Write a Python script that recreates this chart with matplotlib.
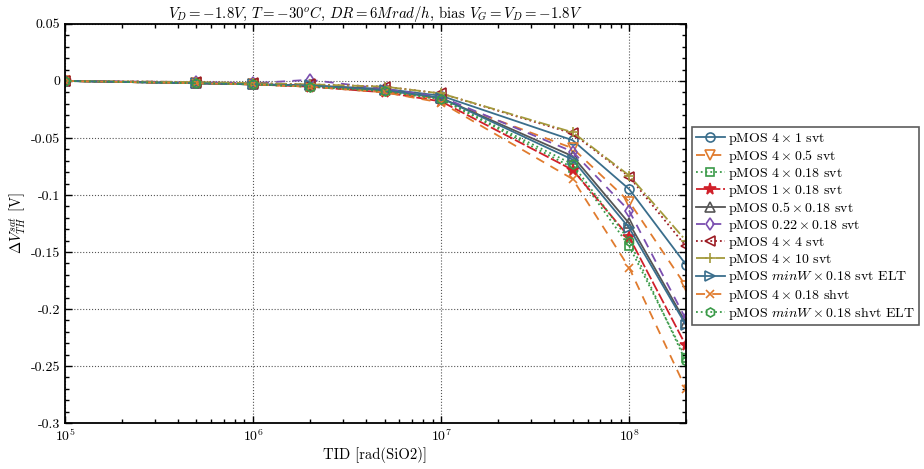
import numpy as np
import matplotlib
matplotlib.use('Agg')
import matplotlib.pyplot as plt
from matplotlib.ticker import LogLocator, MultipleLocator, NullFormatter

plt.rcParams['font.family'] = 'serif'
plt.rcParams['font.serif'] = ['cmr10', 'DejaVu Serif']
plt.rcParams['mathtext.fontset'] = 'cm'
plt.rcParams['axes.unicode_minus'] = False
plt.rcParams['axes.formatter.use_mathtext'] = True

# 剂量点
tid = [1e5, 5e5, 1e6, 2e6, 5e6, 1e7, 5e7, 1e8, 2e8]

# 各器件的阈值电压漂移
dv_4x1 = [0, -0.002, -0.003, -0.004, -0.007, -0.013, -0.052, -0.095, -0.161]
dv_4x05 = [0, -0.002, -0.003, -0.005, -0.009, -0.016, -0.059, -0.106, -0.180]
dv_4x018 = [0, -0.002, -0.003, -0.005, -0.009, -0.016, -0.076, -0.145, -0.243]
dv_1x018 = [0, -0.002, -0.003, -0.005, -0.010, -0.018, -0.078, -0.137, -0.232]
dv_05x018 = [0, -0.002, -0.003, -0.004, -0.008, -0.015, -0.066, -0.125, -0.212]
dv_022x018 = [0, -0.001, -0.002, 0.001, -0.007, -0.014, -0.062, -0.114, -0.209]
dv_4x4 = [0, -0.001, -0.002, -0.003, -0.005, -0.011, -0.046, -0.084, -0.145]
dv_4x10 = [0, -0.001, -0.002, -0.003, -0.005, -0.011, -0.045, -0.083, -0.140]
dv_elt = [0, -0.002, -0.003, -0.004, -0.008, -0.015, -0.069, -0.129, -0.214]
dv_shvt = [0, -0.002, -0.003, -0.005, -0.010, -0.019, -0.086, -0.164, -0.270]
dv_shvt_elt = [0, -0.002, -0.003, -0.005, -0.009, -0.016, -0.073, -0.140, -0.246]

labels = [r'pMOS $4\times1$ svt', r'pMOS $4\times0.5$ svt', r'pMOS $4\times0.18$ svt',
          r'pMOS $1\times0.18$ svt', r'pMOS $0.5\times0.18$ svt', r'pMOS $0.22\times0.18$ svt',
          r'pMOS $4\times4$ svt', r'pMOS $4\times10$ svt', r'pMOS $minW\times0.18$ svt ELT',
          r'pMOS $4\times0.18$ shvt', r'pMOS $minW\times0.18$ shvt ELT']

yticks = [0.05, 0, -0.05, -0.1, -0.15, -0.2, -0.25, -0.3]
yticklabels = ['0.05', '0', '-0.05', '-0.1', '-0.15', '-0.2', '-0.25', '-0.3']

series = [dv_4x1, dv_4x05, dv_4x018, dv_1x018, dv_05x018, dv_022x018,
          dv_4x4, dv_4x10, dv_elt, dv_shvt, dv_shvt_elt]

# 颜色 / 线型 / 标记
c_blue, c_orange, c_green, c_red = '#3a6e8c', '#e07b2e', '#3a9a48', '#d0202a'
c_gray, c_purple, c_dred, c_olive = '#555555', '#7b4fb0', '#9c1c24', '#a39a3c'
styles = [
    dict(color=c_blue, ls='-', marker='o', mfc='none'),
    dict(color=c_orange, ls=(0, (5, 4)), marker='v', mfc='none'),
    dict(color=c_green, ls=':', marker='s', mfc='none', ms=5.5),
    dict(color=c_red, ls=(0, (6, 1.5)), marker='*', mfc=c_red, ms=8.5),
    dict(color=c_gray, ls='-', marker='^', mfc='none'),
    dict(color=c_purple, ls=(0, (5, 4)), marker='d', mfc='none'),
    dict(color=c_dred, ls=':', marker='<', mfc='none'),
    dict(color=c_olive, ls='-.', marker='+'),
    dict(color=c_blue, ls='-', marker='>', mfc='none'),
    dict(color=c_orange, ls=(0, (5, 4)), marker='x', ms=5.5),
    dict(color=c_green, ls=':', marker='h', mfc='none'),
]

fig = plt.figure(figsize=(9.24, 4.69), dpi=100)
ax = fig.add_axes([0.0703, 0.098, 0.672, 0.851])

for vals, lab, st in zip(series, labels, styles):
    kw = dict(lw=1.3, ms=6.5, mew=1.2)
    kw.update(st)
    ax.plot(tid, vals, label=lab, **kw)

ax.set_xscale('log')
ax.set_xlim(1e5, 2e8)
ax.set_ylim(-0.3, 0.05)
ax.set_yticks(yticks)
ax.set_yticklabels(yticklabels)
ax.yaxis.set_minor_locator(MultipleLocator(0.01))
ax.xaxis.set_major_locator(LogLocator(base=10, numticks=10))
ax.xaxis.set_minor_locator(LogLocator(base=10, subs=np.arange(2, 10), numticks=20))
ax.xaxis.set_minor_formatter(NullFormatter())

ax.grid(True, which='major', ls=':', color='#555555', lw=0.8)
ax.tick_params(which='both', direction='in', top=True, right=True, labelsize=10, width=1)
ax.tick_params(which='major', length=5)
ax.tick_params(which='minor', length=3)
for sp in ax.spines.values():
    sp.set_linewidth(1.3)

ax.set_xlabel('TID [rad(SiO2)]', fontsize=10.5, labelpad=2)
ax.set_ylabel(r'$\Delta V_{TH}^{sat}$ [V]', fontsize=10.5, labelpad=2)
ax.set_title(r'$V_D=-1.8V$, $T=-30^oC$, $DR=6Mrad/h$, bias $V_G=V_D=-1.8V$', fontsize=10.7, pad=4)

leg = ax.legend(loc='upper left', bbox_to_anchor=(0.749, 0.729), bbox_transform=fig.transFigure,
                fontsize=10, frameon=True, fancybox=False, edgecolor='#333333',
                handlelength=2.1, handletextpad=0.25, labelspacing=0.08, borderpad=0.25,
                borderaxespad=0)
leg.get_frame().set_linewidth(1.2)

plt.savefig('out.png', dpi=100)
